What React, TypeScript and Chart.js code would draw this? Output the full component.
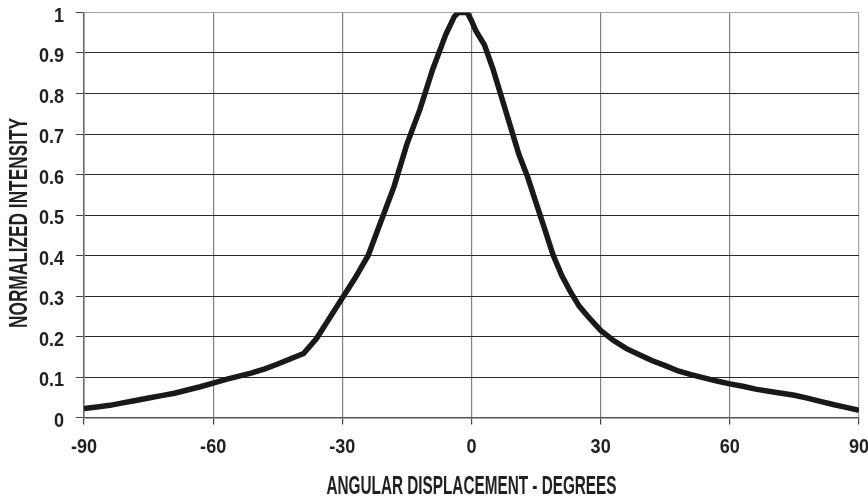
import React, { useEffect, useRef } from "react";
import { Chart, registerables } from "chart.js";

Chart.register(...registerables);

const angles: number[] = [
  -90, -87, -84, -81, -78, -75, -72, -69, -66, -63, -60, -57, -54, -51, -48, -45, -42, -39,
  -36, -33, -30, -27, -24, -21, -18, -15, -12, -9, -6, -4, -3, -1, 0, 1, 3, 5, 7, 9, 11, 13,
  15, 17, 19, 21, 23, 25, 27, 30, 33, 36, 39, 42, 45, 48, 51, 54, 57, 60, 63, 66, 69, 72, 75,
  78, 81, 84, 87, 90,
];
const intensity: number[] = [
  0.022, 0.026, 0.03, 0.036, 0.042, 0.048, 0.054, 0.06, 0.068, 0.076, 0.085, 0.094, 0.102,
  0.11, 0.12, 0.132, 0.145, 0.158, 0.195, 0.245, 0.295, 0.345, 0.4, 0.485, 0.57, 0.675, 0.76,
  0.86, 0.945, 0.99, 1.0, 1.0, 0.98, 0.955, 0.92, 0.86, 0.79, 0.72, 0.65, 0.595, 0.53, 0.465,
  0.4, 0.35, 0.31, 0.275, 0.25, 0.215, 0.19, 0.17, 0.155, 0.14, 0.128, 0.115, 0.106, 0.098,
  0.09, 0.083, 0.077, 0.07, 0.065, 0.06, 0.055, 0.048, 0.04, 0.032, 0.025, 0.018,
];
const xTicks: number[] = [-90, -60, -30, 0, 30, 60, 90];
const yTicks: number[] = [0, 0.1, 0.2, 0.3, 0.4, 0.5, 0.6, 0.7, 0.8, 0.9, 1];
const xTitle = "ANGULAR DISPLACEMENT - DEGREES";
const yTitle = "NORMALIZED INTENSITY";

const FAMILY = "'Liberation Sans', Arial, sans-serif";
const TEXT_COLOR = "#231f20";

const fmt = (v: number) => String(Math.round(v * 10) / 10);

function drawCondensed(
  ctx: CanvasRenderingContext2D,
  text: string,
  x: number,
  y: number,
  size: number,
  sx: number | null,
  targetWidth: number | null,
  align: CanvasTextAlign,
  rot: number
) {
  ctx.save();
  ctx.font = `bold ${size}px ${FAMILY}`;
  ctx.fillStyle = TEXT_COLOR;
  ctx.textAlign = align;
  ctx.textBaseline = "alphabetic";
  let s = sx ?? 1;
  if (targetWidth) s = targetWidth / ctx.measureText(text).width;
  ctx.translate(x, y);
  if (rot) ctx.rotate(rot);
  ctx.scale(s, 1);
  ctx.fillText(text, 0, 0);
  ctx.restore();
}

const textPlugin = {
  id: "condensedText",
  afterDraw(chart: any) {
    const ctx = chart.ctx as CanvasRenderingContext2D;
    const xs = chart.scales.x;
    const ys = chart.scales.y;
    const area = chart.chartArea;
    const tickSize = 21;
    const capT = tickSize * 0.716;
    // y tick labels
    ys.ticks.forEach((t: any) => {
      const py = ys.getPixelForValue(t.value) + 1.5 + capT / 2;
      drawCondensed(ctx, fmt(t.value), area.left - 20, py, tickSize, 0.86, null, "right", 0);
    });
    // x tick labels
    xs.ticks.forEach((t: any) => {
      const px = xs.getPixelForValue(t.value);
      drawCondensed(ctx, fmt(t.value), px, area.bottom + 28 + capT / 2, tickSize, 0.86, null, "center", 0);
    });
    // x title
    const xSize = 26;
    drawCondensed(ctx, xTitle, (area.left + area.right) / 2, area.bottom + 67 + (xSize * 0.716) / 2, xSize, null, 290, "center", 0);
    // y title
    const ySize = 25;
    drawCondensed(ctx, yTitle, 18.5 + (ySize * 0.716) / 2, (area.top + area.bottom) / 2 + 8, ySize, null, 210, "center", -Math.PI / 2);
  },
};

export default function App() {
  const ref = useRef<HTMLCanvasElement | null>(null);
  useEffect(() => {
    if (!ref.current) return;
    const chart = new Chart(ref.current, {
      type: "line",
      data: {
        datasets: [
          {
            data: angles.map((a, i) => ({ x: a, y: intensity[i] })),
            borderColor: "#1c1819",
            borderWidth: 5.5,
            pointRadius: 0,
            tension: 0,
            fill: false,
          },
        ],
      },
      plugins: [textPlugin],
      options: {
        responsive: false,
        animation: false,
        layout: { padding: { left: 0, top: 12.5, right: 9, bottom: 0 } },
        plugins: { legend: { display: false }, tooltip: { enabled: false } },
        scales: {
          x: {
            type: "linear",
            min: -90,
            max: 90,
            afterFit: (s: any) => {
              s.height = 81.5;
            },
            afterBuildTicks: (s: any) => {
              s.ticks = xTicks.map((v) => ({ value: v }));
            },
            ticks: { display: false },
            grid: {
              color: (c: any) => (c.tick && c.tick.value === 90 ? "#9ea7ad" : "#808080"),
              lineWidth: 1.2,
              tickLength: 7,
              tickColor: "#444",
            },
            border: { display: true, color: "#555", width: 1.5 },
          },
          y: {
            min: 0,
            max: 1,
            afterFit: (s: any) => {
              s.width = 84;
            },
            afterBuildTicks: (s: any) => {
              s.ticks = yTicks.map((v) => ({ value: v }));
            },
            ticks: { display: false },
            grid: {
              color: (c: any) => (c.tick && c.tick.value === 1 ? "#9ea7ad" : "#2a2a2a"),
              lineWidth: 1,
              tickLength: 8,
              tickColor: "#444",
            },
            border: { display: true, color: "#666", width: 1.5 },
          },
        },
      },
    });
    return () => chart.destroy();
  }, []);
  return (
    <div style={{ position: "absolute", left: 0, top: 0, width: 868, height: 499, background: "#fff" }}>
      <canvas ref={ref} width={868} height={499} />
    </div>
  );
}
